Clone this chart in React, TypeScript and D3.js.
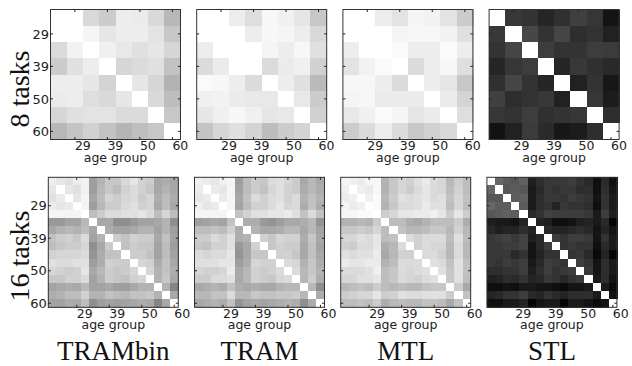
import { useRef, useEffect } from "react";
import * as d3 from "d3";

const methods = ["TRAMbin", "TRAM", "MTL", "STL"];
const rowLabels = ["8 tasks", "16 tasks"];
const ageLabels = ["29", "39", "50", "60"];
const tickIdx8 = [1, 3, 5, 7];
const tickIdx16 = [3, 7, 11, 15];

// gray level of each cell, 0 = black, 1 = white
const trambin8 = [
  [1.0, 1.0, 0.85, 0.8, 0.93, 0.92, 0.85, 0.72],
  [1.0, 1.0, 0.96, 0.9, 0.93, 0.93, 0.89, 0.78],
  [0.86, 0.95, 1.0, 0.94, 0.91, 0.88, 0.9, 0.84],
  [0.8, 0.88, 0.93, 1.0, 0.84, 0.86, 0.88, 0.76],
  [0.93, 0.93, 0.9, 0.83, 1.0, 0.9, 0.84, 0.7],
  [0.92, 0.93, 0.87, 0.85, 0.9, 1.0, 0.85, 0.74],
  [0.84, 0.88, 0.89, 0.89, 0.86, 0.86, 1.0, 0.78],
  [0.72, 0.77, 0.82, 0.76, 0.71, 0.75, 0.78, 1.0],
];
const tram8 = [
  [1, 1, 0.93, 0.87, 0.97, 0.94, 0.9, 0.78],
  [1, 1, 1, 0.93, 0.97, 0.96, 0.93, 0.85],
  [0.93, 1, 1, 1, 0.96, 0.93, 0.97, 0.88],
  [0.86, 0.92, 1, 1, 0.86, 0.92, 0.94, 0.82],
  [0.98, 0.97, 0.93, 0.86, 1, 0.93, 0.88, 0.73],
  [0.94, 0.95, 0.92, 0.91, 0.91, 1, 0.91, 0.8],
  [0.9, 0.94, 0.97, 0.94, 0.9, 0.91, 1, 0.82],
  [0.77, 0.84, 0.88, 0.83, 0.74, 0.8, 0.83, 1],
];
const mtl8 = [
  [1, 1, 0.93, 0.89, 0.96, 0.95, 0.89, 0.8],
  [1, 1, 1, 0.96, 0.97, 0.97, 0.95, 0.88],
  [0.93, 1, 1, 0.98, 0.93, 0.93, 0.98, 0.93],
  [0.89, 0.95, 0.98, 1, 0.86, 0.93, 0.97, 0.87],
  [0.97, 0.97, 0.93, 0.86, 1, 0.93, 0.9, 0.78],
  [0.96, 0.97, 0.92, 0.92, 0.92, 1, 0.92, 0.83],
  [0.91, 0.94, 0.98, 0.96, 0.9, 0.92, 1, 0.87],
  [0.8, 0.86, 0.93, 0.86, 0.78, 0.82, 0.85, 1],
];
const stl8 = [
  [1, 0.22, 0.2, 0.15, 0.19, 0.25, 0.21, 0.08],
  [0.22, 1, 0.28, 0.2, 0.27, 0.18, 0.2, 0.13],
  [0.2, 0.27, 1, 0.24, 0.2, 0.2, 0.24, 0.23],
  [0.15, 0.21, 0.24, 1, 0.15, 0.22, 0.19, 0.16],
  [0.19, 0.27, 0.2, 0.15, 1, 0.13, 0.2, 0.09],
  [0.25, 0.18, 0.2, 0.22, 0.13, 1, 0.21, 0.11],
  [0.21, 0.2, 0.24, 0.19, 0.2, 0.21, 1, 0.18],
  [0.07, 0.13, 0.23, 0.17, 0.09, 0.11, 0.18, 1],
];

const trambin16 = [
  [0.93, 0.9, 0.88, 0.93, 0.95, 0.62, 0.7, 0.78, 0.78, 0.85, 0.9, 0.82, 0.8, 0.65, 0.68, 0.65],
  [0.9, 1.0, 0.9, 0.88, 0.95, 0.62, 0.72, 0.78, 0.74, 0.82, 0.86, 0.82, 0.78, 0.66, 0.7, 0.66],
  [0.88, 0.92, 1.0, 0.9, 0.96, 0.65, 0.74, 0.84, 0.8, 0.84, 0.86, 0.8, 0.84, 0.68, 0.74, 0.68],
  [0.92, 0.9, 0.92, 1.0, 0.96, 0.62, 0.72, 0.8, 0.8, 0.85, 0.88, 0.82, 0.84, 0.66, 0.74, 0.66],
  [0.96, 0.96, 0.96, 0.96, 1.0, 0.74, 0.8, 0.86, 0.86, 0.88, 0.88, 0.9, 0.86, 0.74, 0.84, 0.74],
  [0.6, 0.6, 0.64, 0.64, 0.72, 1.0, 0.66, 0.66, 0.56, 0.56, 0.6, 0.64, 0.64, 0.66, 0.7, 0.56],
  [0.66, 0.7, 0.72, 0.7, 0.74, 0.66, 1.0, 0.68, 0.64, 0.64, 0.66, 0.7, 0.7, 0.64, 0.7, 0.62],
  [0.76, 0.8, 0.82, 0.78, 0.86, 0.64, 0.7, 1.0, 0.8, 0.76, 0.82, 0.8, 0.8, 0.66, 0.76, 0.64],
  [0.74, 0.78, 0.8, 0.8, 0.84, 0.56, 0.66, 0.8, 1.0, 0.76, 0.8, 0.78, 0.78, 0.64, 0.74, 0.62],
  [0.82, 0.84, 0.84, 0.84, 0.86, 0.58, 0.68, 0.76, 0.76, 1.0, 0.8, 0.8, 0.76, 0.64, 0.74, 0.64],
  [0.88, 0.86, 0.86, 0.88, 0.88, 0.62, 0.68, 0.82, 0.8, 0.8, 1.0, 0.84, 0.82, 0.68, 0.76, 0.66],
  [0.84, 0.82, 0.8, 0.82, 0.9, 0.66, 0.72, 0.8, 0.78, 0.8, 0.84, 1.0, 0.84, 0.7, 0.76, 0.68],
  [0.78, 0.78, 0.82, 0.82, 0.86, 0.64, 0.7, 0.8, 0.78, 0.76, 0.82, 0.84, 1.0, 0.7, 0.78, 0.66],
  [0.64, 0.66, 0.68, 0.66, 0.72, 0.64, 0.64, 0.66, 0.62, 0.62, 0.66, 0.7, 0.7, 1.0, 0.7, 0.52],
  [0.68, 0.7, 0.74, 0.74, 0.82, 0.7, 0.7, 0.76, 0.74, 0.72, 0.76, 0.76, 0.78, 0.7, 1.0, 0.66],
  [0.64, 0.64, 0.68, 0.66, 0.74, 0.56, 0.62, 0.64, 0.62, 0.64, 0.66, 0.68, 0.66, 0.52, 0.66, 1.0],
];
const tram16 = [
  [0.94, 0.92, 0.9, 0.94, 0.96, 0.62, 0.74, 0.8, 0.78, 0.86, 0.88, 0.84, 0.8, 0.66, 0.72, 0.66],
  [0.92, 1.0, 0.92, 0.9, 0.96, 0.64, 0.74, 0.8, 0.76, 0.84, 0.88, 0.82, 0.8, 0.68, 0.72, 0.68],
  [0.9, 0.92, 1.0, 0.92, 0.96, 0.66, 0.76, 0.86, 0.82, 0.86, 0.88, 0.82, 0.86, 0.7, 0.76, 0.7],
  [0.94, 0.9, 0.92, 1.0, 0.96, 0.64, 0.74, 0.82, 0.82, 0.86, 0.9, 0.84, 0.86, 0.68, 0.76, 0.68],
  [0.96, 0.96, 0.96, 0.96, 1.0, 0.76, 0.82, 0.88, 0.88, 0.9, 0.9, 0.92, 0.88, 0.76, 0.86, 0.76],
  [0.62, 0.64, 0.66, 0.64, 0.76, 1.0, 0.68, 0.68, 0.6, 0.58, 0.62, 0.66, 0.66, 0.68, 0.72, 0.58],
  [0.74, 0.74, 0.76, 0.74, 0.82, 0.68, 1.0, 0.7, 0.66, 0.66, 0.68, 0.72, 0.72, 0.66, 0.72, 0.64],
  [0.8, 0.8, 0.86, 0.82, 0.88, 0.68, 0.7, 1.0, 0.82, 0.78, 0.84, 0.82, 0.82, 0.68, 0.78, 0.66],
  [0.78, 0.76, 0.82, 0.82, 0.88, 0.6, 0.66, 0.82, 1.0, 0.78, 0.82, 0.8, 0.8, 0.66, 0.76, 0.64],
  [0.86, 0.84, 0.86, 0.86, 0.9, 0.58, 0.66, 0.78, 0.78, 1.0, 0.82, 0.82, 0.78, 0.66, 0.76, 0.66],
  [0.88, 0.88, 0.88, 0.9, 0.9, 0.62, 0.68, 0.84, 0.82, 0.82, 1.0, 0.86, 0.84, 0.7, 0.78, 0.68],
  [0.84, 0.82, 0.82, 0.84, 0.92, 0.66, 0.72, 0.82, 0.8, 0.82, 0.86, 1.0, 0.86, 0.72, 0.78, 0.7],
  [0.8, 0.8, 0.86, 0.86, 0.88, 0.66, 0.72, 0.82, 0.8, 0.78, 0.84, 0.86, 1.0, 0.72, 0.8, 0.68],
  [0.66, 0.68, 0.7, 0.68, 0.76, 0.68, 0.66, 0.68, 0.66, 0.66, 0.7, 0.72, 0.72, 1.0, 0.72, 0.56],
  [0.72, 0.72, 0.76, 0.76, 0.86, 0.72, 0.72, 0.78, 0.76, 0.76, 0.78, 0.78, 0.8, 0.72, 1.0, 0.68],
  [0.66, 0.68, 0.7, 0.68, 0.76, 0.58, 0.64, 0.66, 0.64, 0.66, 0.68, 0.7, 0.68, 0.56, 0.68, 1.0],
];
const mtl16 = [
  [0.96, 0.94, 0.92, 0.96, 0.97, 0.7, 0.78, 0.84, 0.82, 0.88, 0.92, 0.86, 0.84, 0.72, 0.8, 0.74],
  [0.94, 1.0, 0.94, 0.92, 0.97, 0.7, 0.78, 0.84, 0.8, 0.86, 0.9, 0.86, 0.84, 0.74, 0.82, 0.74],
  [0.92, 0.94, 1.0, 0.94, 0.98, 0.72, 0.8, 0.88, 0.86, 0.88, 0.9, 0.86, 0.88, 0.76, 0.84, 0.76],
  [0.96, 0.92, 0.94, 1.0, 0.98, 0.7, 0.78, 0.86, 0.86, 0.88, 0.92, 0.88, 0.88, 0.74, 0.84, 0.74],
  [0.97, 0.97, 0.98, 0.98, 1.0, 0.8, 0.84, 0.9, 0.9, 0.92, 0.92, 0.94, 0.9, 0.8, 0.9, 0.8],
  [0.7, 0.7, 0.72, 0.7, 0.8, 1.0, 0.74, 0.74, 0.68, 0.66, 0.7, 0.74, 0.74, 0.74, 0.8, 0.68],
  [0.78, 0.78, 0.8, 0.78, 0.84, 0.74, 1.0, 0.76, 0.72, 0.72, 0.74, 0.78, 0.78, 0.72, 0.82, 0.72],
  [0.84, 0.84, 0.88, 0.86, 0.9, 0.74, 0.76, 1.0, 0.86, 0.82, 0.86, 0.86, 0.86, 0.74, 0.88, 0.74],
  [0.82, 0.8, 0.86, 0.86, 0.9, 0.68, 0.72, 0.86, 1.0, 0.82, 0.86, 0.84, 0.84, 0.72, 0.86, 0.72],
  [0.88, 0.86, 0.88, 0.88, 0.92, 0.66, 0.72, 0.82, 0.82, 1.0, 0.86, 0.86, 0.82, 0.72, 0.86, 0.72],
  [0.92, 0.9, 0.9, 0.92, 0.92, 0.7, 0.74, 0.86, 0.86, 0.86, 1.0, 0.88, 0.86, 0.76, 0.88, 0.76],
  [0.86, 0.86, 0.86, 0.88, 0.94, 0.74, 0.78, 0.86, 0.84, 0.86, 0.88, 1.0, 0.88, 0.78, 0.88, 0.76],
  [0.84, 0.84, 0.88, 0.88, 0.9, 0.74, 0.78, 0.86, 0.84, 0.82, 0.86, 0.88, 1.0, 0.78, 0.88, 0.74],
  [0.72, 0.74, 0.76, 0.74, 0.8, 0.74, 0.72, 0.74, 0.72, 0.72, 0.76, 0.78, 0.78, 1.0, 0.8, 0.66],
  [0.8, 0.82, 0.84, 0.84, 0.9, 0.8, 0.82, 0.88, 0.86, 0.86, 0.88, 0.88, 0.88, 0.8, 1.0, 0.76],
  [0.74, 0.74, 0.76, 0.74, 0.8, 0.68, 0.72, 0.74, 0.72, 0.72, 0.76, 0.76, 0.74, 0.66, 0.76, 1.0],
];
const stl16 = [
  [1, 0.4, 0.36, 0.34, 0.38, 0.12, 0.18, 0.22, 0.22, 0.22, 0.24, 0.2, 0.16, 0.06, 0.16, 0.06],
  [0.4, 1, 0.34, 0.36, 0.34, 0.1, 0.16, 0.22, 0.2, 0.22, 0.22, 0.18, 0.18, 0.06, 0.18, 0.08],
  [0.34, 0.34, 1, 0.36, 0.38, 0.1, 0.18, 0.22, 0.22, 0.2, 0.24, 0.22, 0.2, 0.08, 0.2, 0.1],
  [0.4, 0.36, 0.36, 1, 0.36, 0.1, 0.18, 0.2, 0.14, 0.22, 0.2, 0.2, 0.18, 0.06, 0.2, 0.1],
  [0.34, 0.36, 0.38, 0.36, 1, 0.16, 0.2, 0.26, 0.24, 0.24, 0.24, 0.24, 0.22, 0.1, 0.24, 0.12],
  [0.12, 0.1, 0.1, 0.08, 0.14, 1, 0.14, 0.12, 0.06, 0.06, 0.08, 0.12, 0.14, 0.1, 0.16, 0.02],
  [0.16, 0.12, 0.14, 0.14, 0.18, 0.14, 1, 0.16, 0.14, 0.14, 0.16, 0.18, 0.16, 0.08, 0.14, 0.08],
  [0.22, 0.24, 0.26, 0.22, 0.26, 0.12, 0.16, 1, 0.24, 0.2, 0.24, 0.24, 0.22, 0.08, 0.2, 0.1],
  [0.22, 0.22, 0.24, 0.24, 0.26, 0.08, 0.16, 0.24, 1, 0.2, 0.22, 0.2, 0.2, 0.06, 0.16, 0.1],
  [0.22, 0.22, 0.22, 0.16, 0.2, 0.08, 0.14, 0.2, 0.2, 1, 0.2, 0.22, 0.16, 0.04, 0.14, 0.02],
  [0.22, 0.2, 0.24, 0.22, 0.24, 0.1, 0.16, 0.24, 0.22, 0.2, 1, 0.24, 0.2, 0.08, 0.18, 0.1],
  [0.18, 0.18, 0.2, 0.2, 0.24, 0.12, 0.18, 0.24, 0.2, 0.22, 0.24, 1, 0.22, 0.08, 0.18, 0.1],
  [0.12, 0.14, 0.18, 0.16, 0.2, 0.14, 0.16, 0.22, 0.2, 0.16, 0.2, 0.22, 1, 0.1, 0.18, 0.08],
  [0.06, 0.06, 0.08, 0.06, 0.1, 0.1, 0.08, 0.08, 0.06, 0.04, 0.08, 0.08, 0.1, 1, 0.1, 0.04],
  [0.14, 0.16, 0.2, 0.2, 0.24, 0.16, 0.14, 0.2, 0.16, 0.14, 0.18, 0.18, 0.18, 0.1, 1, 0.08],
  [0.06, 0.06, 0.1, 0.1, 0.14, 0.02, 0.08, 0.1, 0.1, 0.02, 0.1, 0.1, 0.08, 0.04, 0.08, 1],
];

const matrices = [
  [trambin8, tram8, mtl8, stl8],
  [trambin16, tram16, mtl16, stl16],
];
const tickIdx = [tickIdx8, tickIdx16];

const W = 632;
const H = 366;

export default function App() {
  const svgRef = useRef<SVGSVGElement>(null);

  useEffect(() => {
    if (!svgRef.current) return;
    const svg = d3.select(svgRef.current);
    svg.selectAll("*").remove();

    const size = 130;
    const gap = 146.2;
    const rowTop = [9.5, 177.3];
    const rowLeft = [50.5, 48.3];
    const gray = d3.scaleLinear<string>().domain([0, 1]).range(["#000", "#fff"]);
    const sans = "'DejaVu Sans', sans-serif";
    const serif = "'Liberation Serif', 'Times New Roman', serif";

    matrices.forEach((row, r) => {
      row.forEach((mat, c) => {
        const n = mat.length;
        const x0 = rowLeft[r] + c * gap;
        const y0 = rowTop[r];
        const band = d3.scaleBand<number>().domain(d3.range(n)).range([0, size]);
        const g = svg.append("g").attr("transform", `translate(${x0},${y0})`);

        // heatmap cells
        g.selectAll("g.row")
          .data(mat)
          .enter()
          .append("g")
          .attr("shape-rendering", "crispEdges")
          .each(function (vals, i) {
            d3.select(this)
              .selectAll("rect")
              .data(vals)
              .enter()
              .append("rect")
              .attr("x", (_, j) => band(j)!)
              .attr("y", band(i)!)
              .attr("width", band.bandwidth() + 0.6)
              .attr("height", band.bandwidth() + 0.6)
              .attr("fill", (v) => gray(v));
          });

        g.append("rect")
          .attr("x", 0)
          .attr("y", 0)
          .attr("width", size)
          .attr("height", size)
          .attr("fill", "none")
          .attr("stroke", "#333")
          .attr("stroke-width", 1);

        const ticks = tickIdx[r].map((k) => band(k)! + band.bandwidth() / 2);

        // inward ticks on all four sides
        ticks.forEach((t) => {
          [
            [t, 0, t, 2.5],
            [t, size, t, size - 2.5],
            [0, t, 2.5, t],
            [size, t, size - 2.5, t],
          ].forEach(([a, b, cc, d]) =>
            g.append("line").attr("x1", a).attr("y1", b).attr("x2", cc).attr("y2", d)
              .attr("stroke", "#222").attr("stroke-width", 1)
          );
        });

        g.selectAll("text.xt")
          .data(ageLabels)
          .enter()
          .append("text")
          .attr("x", (_, k) => ticks[k])
          .attr("y", size + 10.5)
          .attr("font-family", sans)
          .attr("font-size", 12.5)
          .attr("fill", "#222")
          .text((d) => d);

        g.append("text")
          .attr("x", size / 2)
          .attr("y", size + 22)
          .attr("text-anchor", "middle")
          .attr("font-family", sans)
          .attr("font-size", 12.5)
          .attr("fill", "#222")
          .text("age group");

        if (c === 0) {
          g.selectAll("text.yt")
            .data(ageLabels)
            .enter()
            .append("text")
            .attr("x", -1.5)
            .attr("y", (_, k) => ticks[k])
            .attr("dy", "0.36em")
            .attr("text-anchor", "end")
            .attr("font-family", sans)
            .attr("font-size", 13)
            .attr("fill", "#222")
            .text((d) => d);
        }

        if (r === 1) {
          svg.append("text")
            .attr("x", x0 + size / 2)
            .attr("y", 360)
            .attr("text-anchor", "middle")
            .attr("font-family", serif)
            .attr("font-size", 27)
            .attr("fill", "#111")
            .text(methods[c]);
        }
      });

      const cy = [89, 256][r];
      svg.append("text")
        .attr("transform", `translate(28.5,${cy}) rotate(-90)`)
        .attr("text-anchor", "middle")
        .attr("font-family", serif)
        .attr("font-size", 28)
        .attr("fill", "#111")
        .text(rowLabels[r]);
    });
  }, []);

  return (
    <svg
      ref={svgRef}
      width={W}
      height={H}
      style={{ position: "absolute", left: 0, top: 0, background: "#fff" }}
    />
  );
}
